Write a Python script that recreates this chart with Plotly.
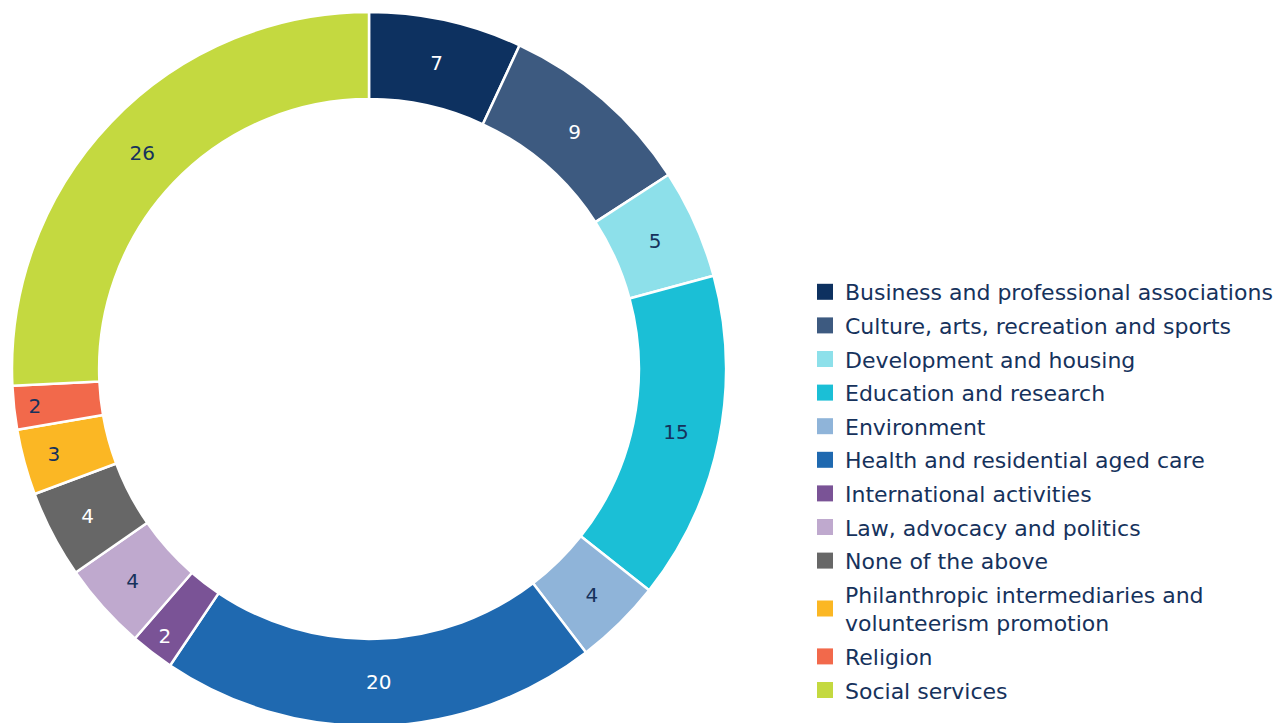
import plotly.graph_objects as go

categories = [
    "Business and professional associations",
    "Culture, arts, recreation and sports",
    "Development and housing",
    "Education and research",
    "Environment",
    "Health and residential aged care",
    "International activities",
    "Law, advocacy and politics",
    "None of the above",
    "Philanthropic intermediaries and<br>volunteerism promotion",
    "Religion",
    "Social services",
]
values = [7, 9, 5, 15, 4, 20, 2, 4, 4, 3, 2, 26]
colors = ["#0d3160", "#3d5a80", "#8de0ea", "#1bbfd6", "#8fb4d9", "#1f69b0",
          "#7a5396", "#bfa9ce", "#676767", "#fbb724", "#f2694b", "#c4d940"]
NAVY = "#16325c"
text_colors = ["white", "white", NAVY, NAVY, NAVY, "white",
               "white", NAVY, "white", NAVY, NAVY, NAVY]

W, H = 1285, 723
cx, cy, r = 361, 361, 357
FONT = "DejaVu Sans"

fig = go.Figure()
fig.add_trace(go.Pie(
    labels=categories,
    values=values,
    sort=False,
    direction="clockwise",
    rotation=0,
    hole=0.756,
    marker=dict(colors=colors, line=dict(color="white", width=2.5)),
    textinfo="value",
    textposition="inside",
    insidetextorientation="horizontal",
    textfont=dict(family=FONT, size=20, color=text_colors),
    domain=dict(x=[(cx - r) / W, (cx + r) / W],
                y=[(H - cy - r) / H, (H - cy + r) / H]),
    showlegend=False,
))

# legend entries (square swatches)
for i, (lab, col) in enumerate(zip(categories, colors)):
    fig.add_trace(go.Scatter(
        x=[None], y=[None], mode="markers",
        marker=dict(symbol="square", size=17, color=col),
        name=lab, legendgroup=f"g{i}", showlegend=True,
    ))

fig.update_layout(
    width=W, height=H,
    margin=dict(l=0, r=0, t=0, b=0),
    paper_bgcolor="white",
    plot_bgcolor="white",
    font=dict(family=FONT, color=NAVY),
    uniformtext=dict(minsize=20, mode="show"),
    xaxis=dict(visible=False),
    yaxis=dict(visible=False),
    legend=dict(
        x=797 / W, xanchor="left",
        y=1 - 263 / H, yanchor="top",
        font=dict(family=FONT, size=22, color=NAVY),
        itemwidth=30,
        tracegroupgap=2,
        bgcolor="rgba(0,0,0,0)",
    ),
    showlegend=True,
)

fig.write_html("out.html")
